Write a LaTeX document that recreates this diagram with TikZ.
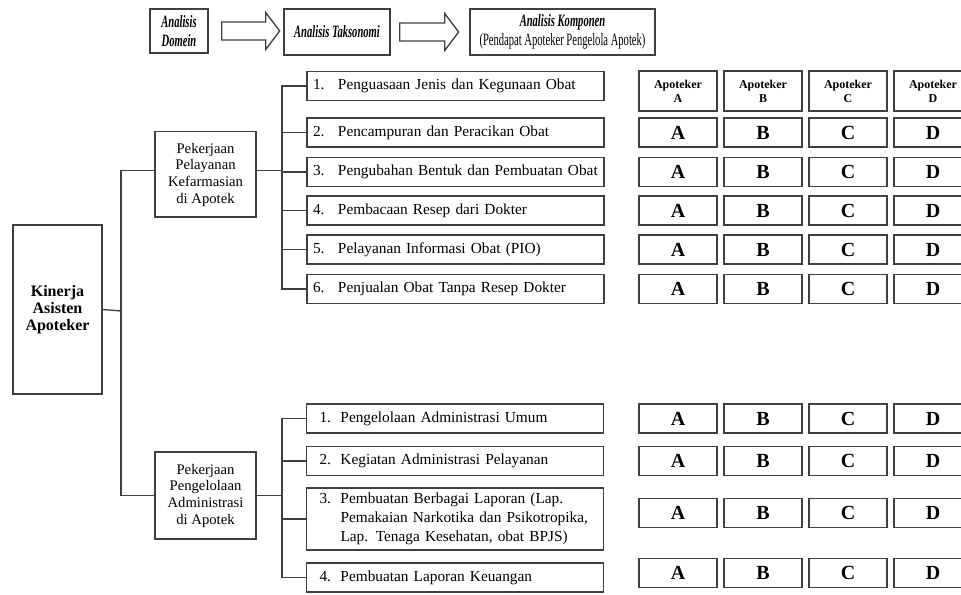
\documentclass[tikz,border=0pt]{standalone}
\usepackage{fontspec}
\setmainfont{Liberation Serif}
\newfontfamily\narrowfont[FakeStretch=0.61]{Liberation Serif}
\usetikzlibrary{calc}

\newcommand{\numA}[1]{\makebox[18.75pt][l]{#1}}
\newcommand{\numB}[1]{\hspace*{5.25pt}\makebox[15.75pt][l]{#1}}

\begin{document}
\begin{tikzpicture}[x=0.75pt,y=-0.75pt,
    box/.style={draw=black!75, line width=1pt, inner sep=0pt, align=center},
    link/.style={draw=black!75, line width=1pt},
    head/.style={box, minimum height=34.5pt, font=\narrowfont\fontsize{13}{14}\selectfont},
    item/.style={box, minimum height=21.75pt, text width=213.75pt, inner xsep=4.5pt, align=left, font=\fontsize{11.5}{14}\selectfont},
    cell/.style={box, minimum width=58.5pt, minimum height=21.75pt, font=\bfseries\fontsize{15}{16}\selectfont},
    cellhead/.style={box, minimum width=58.5pt, minimum height=30pt, font=\bfseries\fontsize{9}{10.5}\selectfont}]

    \useasboundingbox (0,0) rectangle (961,595);
    \clip (0,0) rectangle (961,595);

    % top row
    \node[head, minimum width=43.5pt, minimum height=33pt] (D) at (179,31) {\bfseries\itshape Analisis\\\bfseries\itshape Domein};
    \node[head, minimum width=79.5pt] (T) at (337,32) {\bfseries\itshape Analisis Taksonomi};
    \node[head, minimum width=138.75pt] (KA) at (562.5,32) {{\bfseries\itshape Analisis Komponen}\\(Pendapat Apoteker Pengelola Apotek)};

    \draw[link] ($(D.east)+(13,-9)$) -- ++(44,0) -- ++(0,-9.5) -- ++(14,18.5) -- ++(-14,18.5) -- ++(0,-9.5) -- ++(-44,0) -- cycle;
    \draw[link] ($(T.east)+(9,-9)$) -- ++(45,0) -- ++(0,-9.5) -- ++(14,18.5) -- ++(-14,18.5) -- ++(0,-9.5) -- ++(-45,0) -- cycle;

    % left part
    \node[box, minimum width=66.75pt, minimum height=126.75pt, font=\bfseries\fontsize{12}{13}\selectfont] (K) at (57.5,309.5) {Kinerja\\Asisten\\Apoteker};
    \node[box, minimum width=75.75pt, minimum height=64pt, font=\fontsize{11}{12.5}\selectfont] (P) at (205.5,174.5) {Pekerjaan\\Pelayanan\\Kefarmasian\\di Apotek};
    \node[box, minimum width=75.75pt, minimum height=65.25pt, font=\fontsize{11}{12.5}\selectfont] (Q) at (205.5,495.5) {Pekerjaan\\Pengelolaan\\Administrasi\\di Apotek};

    % taksonomi
    \node[item] (T1) at (455.5,86) {\numA{1.}Penguasaan Jenis dan Kegunaan Obat};
    \node[item] (T2) at (455.5,132.5) {\numA{2.}Pencampuran dan Peracikan Obat};
    \node[item] (T3) at (455.5,172) {\numA{3.}Pengubahan Bentuk dan Pembuatan Obat};
    \node[item] (T4) at (455.5,210.5) {\numA{4.}Pembacaan Resep dari Dokter};
    \node[item] (T5) at (455.5,249.5) {\numA{5.}Pelayanan Informasi Obat (PIO)};
    \node[item] (T6) at (455.5,289) {\numA{6.}Penjualan Obat Tanpa Resep Dokter};

    \node[item] (U1) at (455,418.5) {\numB{1.}Pengelolaan Administrasi Umum};
    \node[item] (U2) at (455,461) {\numB{2.}Kegiatan Administrasi Pelayanan};
    \node[item, minimum height=46.5pt, font=\fontsize{11.5}{14.3}\selectfont] (U3) at (455,519) {\numB{3.}Pembuatan Berbagai Laporan (Lap.\\\hspace*{21pt}Pemakaian Narkotika dan Psikotropika,\\\hspace*{21pt}Lap. Tenaga Kesehatan, obat BPJS)};
    \node[item] (U4) at (455,577.5) {\numB{4.}Pembuatan Laporan Keuangan};

    % komponen
    \foreach \c [count=\i from 0] in {A,B,C,D} {
        \node[cellhead] (H\c) at ({678+85*\i},91) {Apoteker\\\c};
        \foreach \r/\y in {1/132.5, 2/172, 3/210.5, 4/249.5, 5/289, 6/418.5, 7/461, 8/513, 9/573}
            \node[cell] (\c\r) at ({678+85*\i},\y) {\c};
    }

    % connectors
    \coordinate (tr) at (121,311);
    \coordinate (b1) at (282,172);
    \coordinate (b2) at (282,498);
    \draw[link] (K.east) -- (tr);
    \draw[link] ([yshift=3pt]P.west) -| (tr) |- (Q.west);
    \draw[link] ([yshift=3pt]P.east) -- ([yshift=3pt]P.east -| b1);
    \draw[link] (T1.west) -| (b1) |- (T6.west);
    \foreach \n in {2,...,5}
        \draw[link] (T\n.west) -- (T\n.west -| b1);
    \draw[link] (Q.east) -- (Q.east -| b2);
    \draw[link] (U1.west) -| (b2) |- (U4.west);
    \foreach \n in {2,3}
        \draw[link] (U\n.west) -- (U\n.west -| b2);
\end{tikzpicture}
\end{document}
